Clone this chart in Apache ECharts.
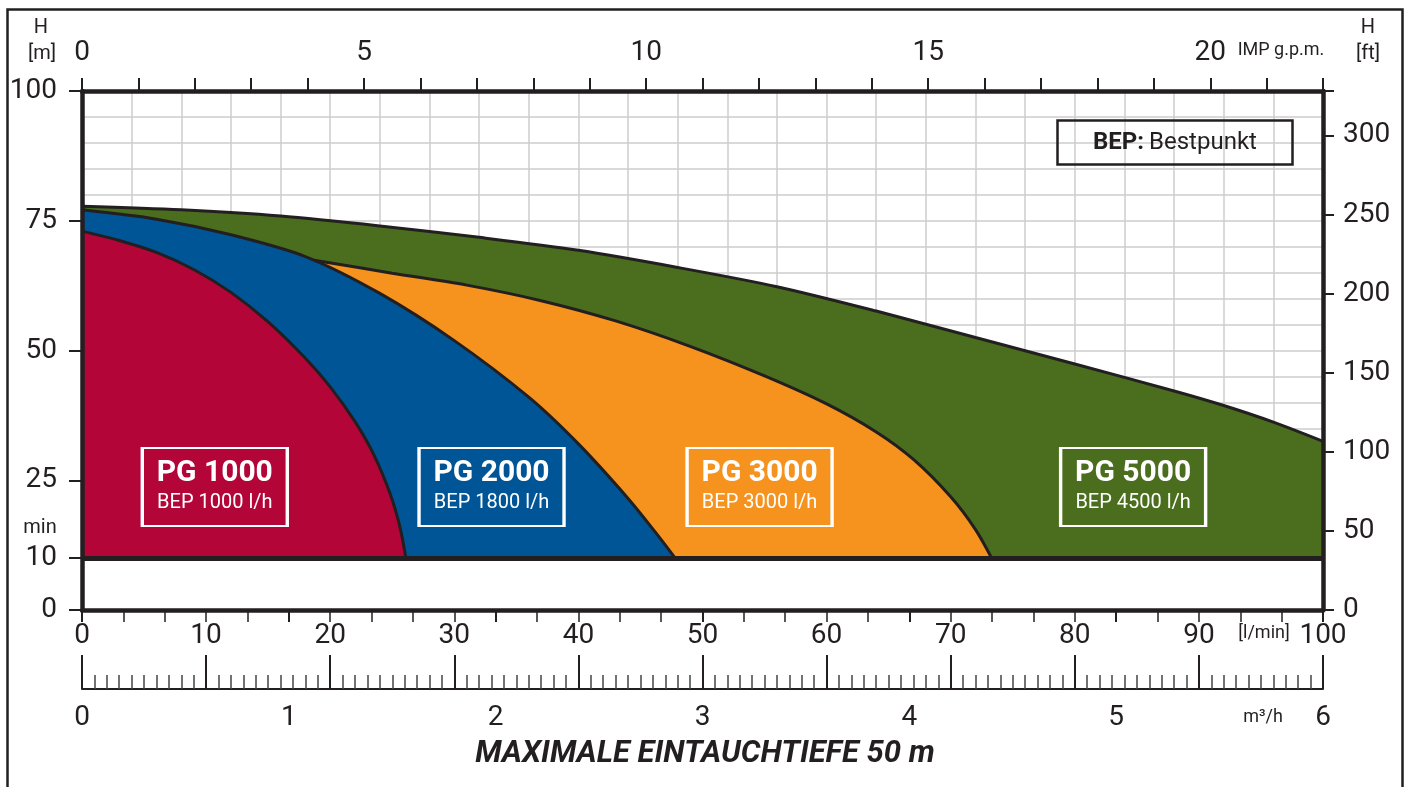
<!DOCTYPE html>
<html>
<head>
<meta charset="utf-8">
<title>PG Kennlinien</title>
<script src="https://cdn.jsdelivr.net/npm/echarts@6/dist/echarts.min.js"></script>
<style>
html, body { margin: 0; padding: 0; background: #fff; }
#chart { width: 1407px; height: 787px; }
</style>
</head>
<body>
<div id="chart"></div>
<script>
// flow in l/min, head in m
const pg1000Flow = [0, 3, 6, 9, 12, 15, 18, 20, 22, 23.5, 24.8, 25.6, 26.1]
const pg1000Head = [73, 71.2, 68.9, 65.6, 61.2, 55.5, 48.5, 43, 36.3, 30, 22.6, 16.2, 10]

const pg2000Flow = [0, 6, 12, 18, 24, 30, 36, 40, 44, 46.2, 47.8]
const pg2000Head = [77.1, 75.3, 72.3, 68.1, 61, 51.9, 41, 32, 21.5, 15, 10]

const pg3000Flow = [18.7, 25, 31, 37, 43, 49, 55, 60, 64, 67, 70, 72, 73.3]
const pg3000Head = [67.4, 64.9, 62.6, 59.6, 55.7, 50.8, 45.1, 39.7, 34.3, 29, 21.8, 15.5, 10]

const pg5000Flow = [0, 8, 16, 24, 32, 40, 48, 56, 64, 72, 80, 88, 92, 96, 100]
const pg5000Head = [77.8, 77.1, 75.9, 74, 71.8, 69.3, 66, 62.3, 57.6, 52.5, 47.4, 42.2, 39.4, 36.2, 32.5]

const minHead = 10
const leftTicks = [0, 10, 25, 50, 75, 100]

const FLOW_MAX = 100          // l/min
const GPM = 4.546             // l/min per IMP g.p.m.
const FT = 3.2808             // ft per m
const M3H = 1000 / 60         // l/min per m3/h

const INK = '#231f20'
const GRID_LINE = '#cccccc'
const FONT = 'Roboto'

const pts = (flow, head) => flow.map((q, i) => [q, head[i]])

function pumpSeries(name, flow, head, color, labelAt, bep) {
  return {
    name: name,
    type: 'line',
    xAxisIndex: 0,
    yAxisIndex: 0,
    data: pts(flow, head),
    symbol: 'none',
    smooth: 0.3,
    silent: true,
    z: 2,
    lineStyle: { color: INK, width: 3 },
    areaStyle: { color: color, opacity: 1, origin: minHead },
    markPoint: {
      silent: true,
      symbol: 'rect',
      symbolSize: [145, 78],
      itemStyle: { color: 'rgba(0,0,0,0)', borderColor: '#fff', borderWidth: 2.5 },
      label: {
        show: true,
        position: 'inside',
        formatter: '{t|' + name + '}\n{s|BEP ' + bep + ' l/h}',
        rich: {
          t: { fontFamily: FONT, fontSize: 30, fontWeight: 'bold', color: '#fff', lineHeight: 32, align: 'center' },
          s: { fontFamily: FONT, fontSize: 20, color: '#fff', lineHeight: 26, align: 'center' }
        }
      },
      data: [{ coord: labelAt }]
    }
  }
}

const chart = echarts.init(document.getElementById('chart'))

const green = pumpSeries('PG 5000', pg5000Flow, pg5000Head, '#4a6e1d', [84.7, 23.7], 4500)
green.markArea = {
  silent: true,
  itemStyle: { color: '#fff' },
  data: [[{ yAxis: 0 }, { yAxis: minHead }]]
}
const orange = pumpSeries('PG 3000', pg3000Flow, pg3000Head, '#f6921e', [54.6, 23.7], 3000)
const blue = pumpSeries('PG 2000', pg2000Flow, pg2000Head, '#005597', [33.0, 23.7], 1800)
const red = pumpSeries('PG 1000', pg1000Flow, pg1000Head, '#b40538', [10.7, 23.7], 1000)
red.markLine = {
  silent: true,
  symbol: 'none',
  label: { show: false },
  lineStyle: { color: INK, width: 5, type: 'solid' },
  data: [{ yAxis: minHead }]
}

const digits = { color: INK, fontFamily: FONT, fontSize: 28 }
const unitText = { fill: INK, fontFamily: FONT, fontSize: 18, textAlign: 'center', textVerticalAlign: 'middle' }

chart.setOption({
  animation: false,
  backgroundColor: '#fff',
  title: {
    text: '{b|BEP:} {n|Bestpunkt}',
    left: 1057,
    top: 118,
    borderColor: INK,
    borderWidth: 2.5,
    padding: [10, 36],
    textStyle: {
      fontWeight: 'normal',
      rich: {
        b: { fontFamily: FONT, fontSize: 24, fontWeight: 'bold', color: INK, lineHeight: 29 },
        n: { fontFamily: FONT, fontSize: 24, fontWeight: 'normal', color: INK, lineHeight: 29 }
      }
    }
  },
  grid: { left: 82, right: 84, top: 91, bottom: 177 },
  xAxis: [
    {
      // grid lines every 4 l/min
      type: 'value', position: 'bottom', min: 0, max: FLOW_MAX, interval: 4,
      axisLine: { show: false }, axisTick: { show: false }, axisLabel: { show: false },
      splitLine: { show: true, lineStyle: { color: GRID_LINE, width: 1.5 } }
    },
    {
      // l/min labels and bottom frame
      type: 'value', position: 'bottom', min: 0, max: FLOW_MAX, interval: 10, z: 10,
      axisLine: { show: true, onZero: false, lineStyle: { color: INK, width: 4.5 } },
      axisTick: { show: false },
      axisLabel: Object.assign({ margin: 12 }, digits),
      splitLine: { show: false }
    },
    {
      // IMP g.p.m. on top
      type: 'value', position: 'top', min: 0, max: FLOW_MAX / GPM, interval: 1, z: 10,
      axisLine: { show: true, onZero: false, lineStyle: { color: INK, width: 4.5 } },
      axisTick: { show: true, length: 13, lineStyle: { color: INK, width: 2 } },
      axisLabel: Object.assign({ margin: 24, formatter: v => (v % 5 === 0 ? v : '') }, digits),
      splitLine: { show: false }
    },
    {
      // ruler: l/min every 10 with 1 l/min minor ticks
      type: 'value', position: 'bottom', offset: 79, min: 0, max: FLOW_MAX, interval: 10,
      axisLine: { show: true, onZero: false, lineStyle: { color: INK, width: 2 } },
      axisTick: { show: true, inside: true, length: 34, lineStyle: { color: INK, width: 2 } },
      minorTick: { show: true, splitNumber: 10, length: 14, lineStyle: { color: '#444', width: 1.5 } },
      axisLabel: { show: false },
      splitLine: { show: false }
    },
    {
      // ruler: 5 l/min ticks
      type: 'value', position: 'bottom', offset: 79, min: 0, max: FLOW_MAX, interval: 5,
      axisLine: { show: false },
      axisTick: { show: true, inside: true, length: 22, lineStyle: { color: '#444', width: 1.5 } },
      axisLabel: { show: false },
      splitLine: { show: false }
    },
    {
      // ruler: m3/h below
      type: 'value', position: 'bottom', offset: 79, min: 0, max: FLOW_MAX / M3H, interval: 1,
      axisLine: { show: false },
      axisTick: { show: true, length: 12, lineStyle: { color: INK, width: 2 } },
      minorTick: { show: true, splitNumber: 5, length: 12, lineStyle: { color: INK, width: 1.5 } },
      axisLabel: Object.assign({ margin: 15 }, digits),
      splitLine: { show: false }
    }
  ],
  yAxis: [
    {
      // grid lines every 5 m
      type: 'value', position: 'left', min: 0, max: 100, interval: 5,
      axisLine: { show: false }, axisTick: { show: false }, axisLabel: { show: false },
      splitLine: { show: true, lineStyle: { color: GRID_LINE, width: 1.5 } }
    },
    {
      // H [m]
      type: 'value', position: 'left', min: 0, max: 100, z: 10,
      axisLine: { show: true, onZero: false, lineStyle: { color: INK, width: 4.5 } },
      axisTick: { show: true, length: 13, customValues: leftTicks, lineStyle: { color: INK, width: 2 } },
      axisLabel: Object.assign({ margin: 25, customValues: leftTicks }, digits),
      splitLine: { show: false }
    },
    {
      // H [ft]
      type: 'value', position: 'right', min: 0, max: 100 * FT, interval: 50, z: 10,
      axisLine: { show: true, onZero: false, lineStyle: { color: INK, width: 4.5 } },
      axisTick: { show: true, length: 11, lineStyle: { color: INK, width: 2 } },
      axisLabel: Object.assign({ margin: 20, formatter: v => (v % 50 === 0 ? v : '') }, digits),
      splitLine: { show: false }
    }
  ],
  graphic: [
    { type: 'rect', left: 5, top: 7, z: 100, silent: true,
      shape: { width: 1395, height: 800 }, style: { fill: 'none', stroke: INK, lineWidth: 2.5 } },
    { type: 'text', x: 41, y: 28, silent: true, style: Object.assign({}, unitText, { text: 'H', fontSize: 20 }) },
    { type: 'text', x: 42, y: 54, silent: true, style: Object.assign({}, unitText, { text: '[m]', fontSize: 20 }) },
    { type: 'text', x: 1368, y: 28, silent: true, style: Object.assign({}, unitText, { text: 'H', fontSize: 20 }) },
    { type: 'text', x: 1368, y: 54, silent: true, style: Object.assign({}, unitText, { text: '[ft]', fontSize: 20 }) },
    { type: 'text', x: 1281, y: 50, silent: true, style: Object.assign({}, unitText, { text: 'IMP g.p.m.' }) },
    { type: 'text', x: 1264, y: 633, silent: true, style: Object.assign({}, unitText, { text: '[l/min]' }) },
    { type: 'text', x: 1263, y: 717, silent: true, style: Object.assign({}, unitText, { text: 'm³/h' }) },
    { type: 'text', x: 40, y: 528, silent: true, style: Object.assign({}, unitText, { text: 'min', fontSize: 20 }) },
    { type: 'text', x: 705, y: 754, silent: true,
      style: { text: 'MAXIMALE EINTAUCHTIEFE 50 m', fill: INK, fontFamily: FONT, fontSize: 31,
        fontWeight: 'bold', fontStyle: 'italic', textAlign: 'center', textVerticalAlign: 'middle' } }
  ],
  series: [green, orange, blue, red]
})
</script>
</body>
</html>
